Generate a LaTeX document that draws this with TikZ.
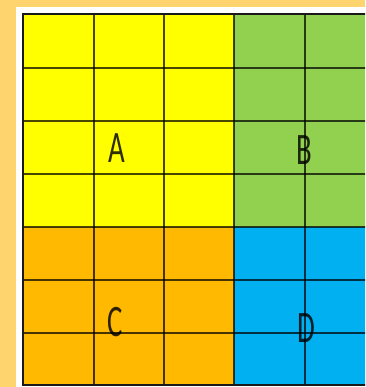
\documentclass[tikz,border=0pt]{standalone}
\usepackage{fontspec}
\setmainfont{Carlito}
\definecolor{bgout}{HTML}{FDD46E}
\definecolor{cyel}{HTML}{FFFF00}
\definecolor{cgrn}{HTML}{92D050}
\definecolor{corg}{HTML}{FFB900}
\definecolor{cblu}{HTML}{00B0F0}
\begin{document}
\begin{tikzpicture}[x=1pt,y=-1pt,
  gridln/.style={draw=black,draw opacity=0.72,line width=1.2pt},
  frameln/.style={draw=black!90,line width=2.6pt},
  letter/.style={font=\fontsize{45}{45}\selectfont,text=black,text opacity=0.82,xscale=0.64,inner sep=0pt}]
\useasboundingbox (0,0) rectangle (365,387);
\fill[bgout] (0,0) rectangle (365,387);
\fill[white] (16,7) rectangle (365,387);
\begin{scope}
\clip (0,0) rectangle (365,387);
\fill[cyel] (23,14) rectangle (234,227);
\fill[cgrn] (234,14) rectangle (376,227);
\fill[corg] (23,227) rectangle (234,386);
\fill[cblu] (234,227) rectangle (376,386);
\foreach \x in {94,164,234,305} \draw[gridln] (\x,14) -- (\x,386);
\foreach \y in {68,121,174,227,280,333} \draw[gridln] (23,\y) -- (376,\y);
\draw[frameln] (376,14) -- (23,14) -- (23,385) -- (376,385);
\end{scope}
\node[letter] (A) at (117,148) {A};
\node[letter] (B) at (304,150) {B};
\node[letter] (C) at (115,322) {C};
\node[letter] (D) at (306,328) {D};
\end{tikzpicture}
\end{document}
